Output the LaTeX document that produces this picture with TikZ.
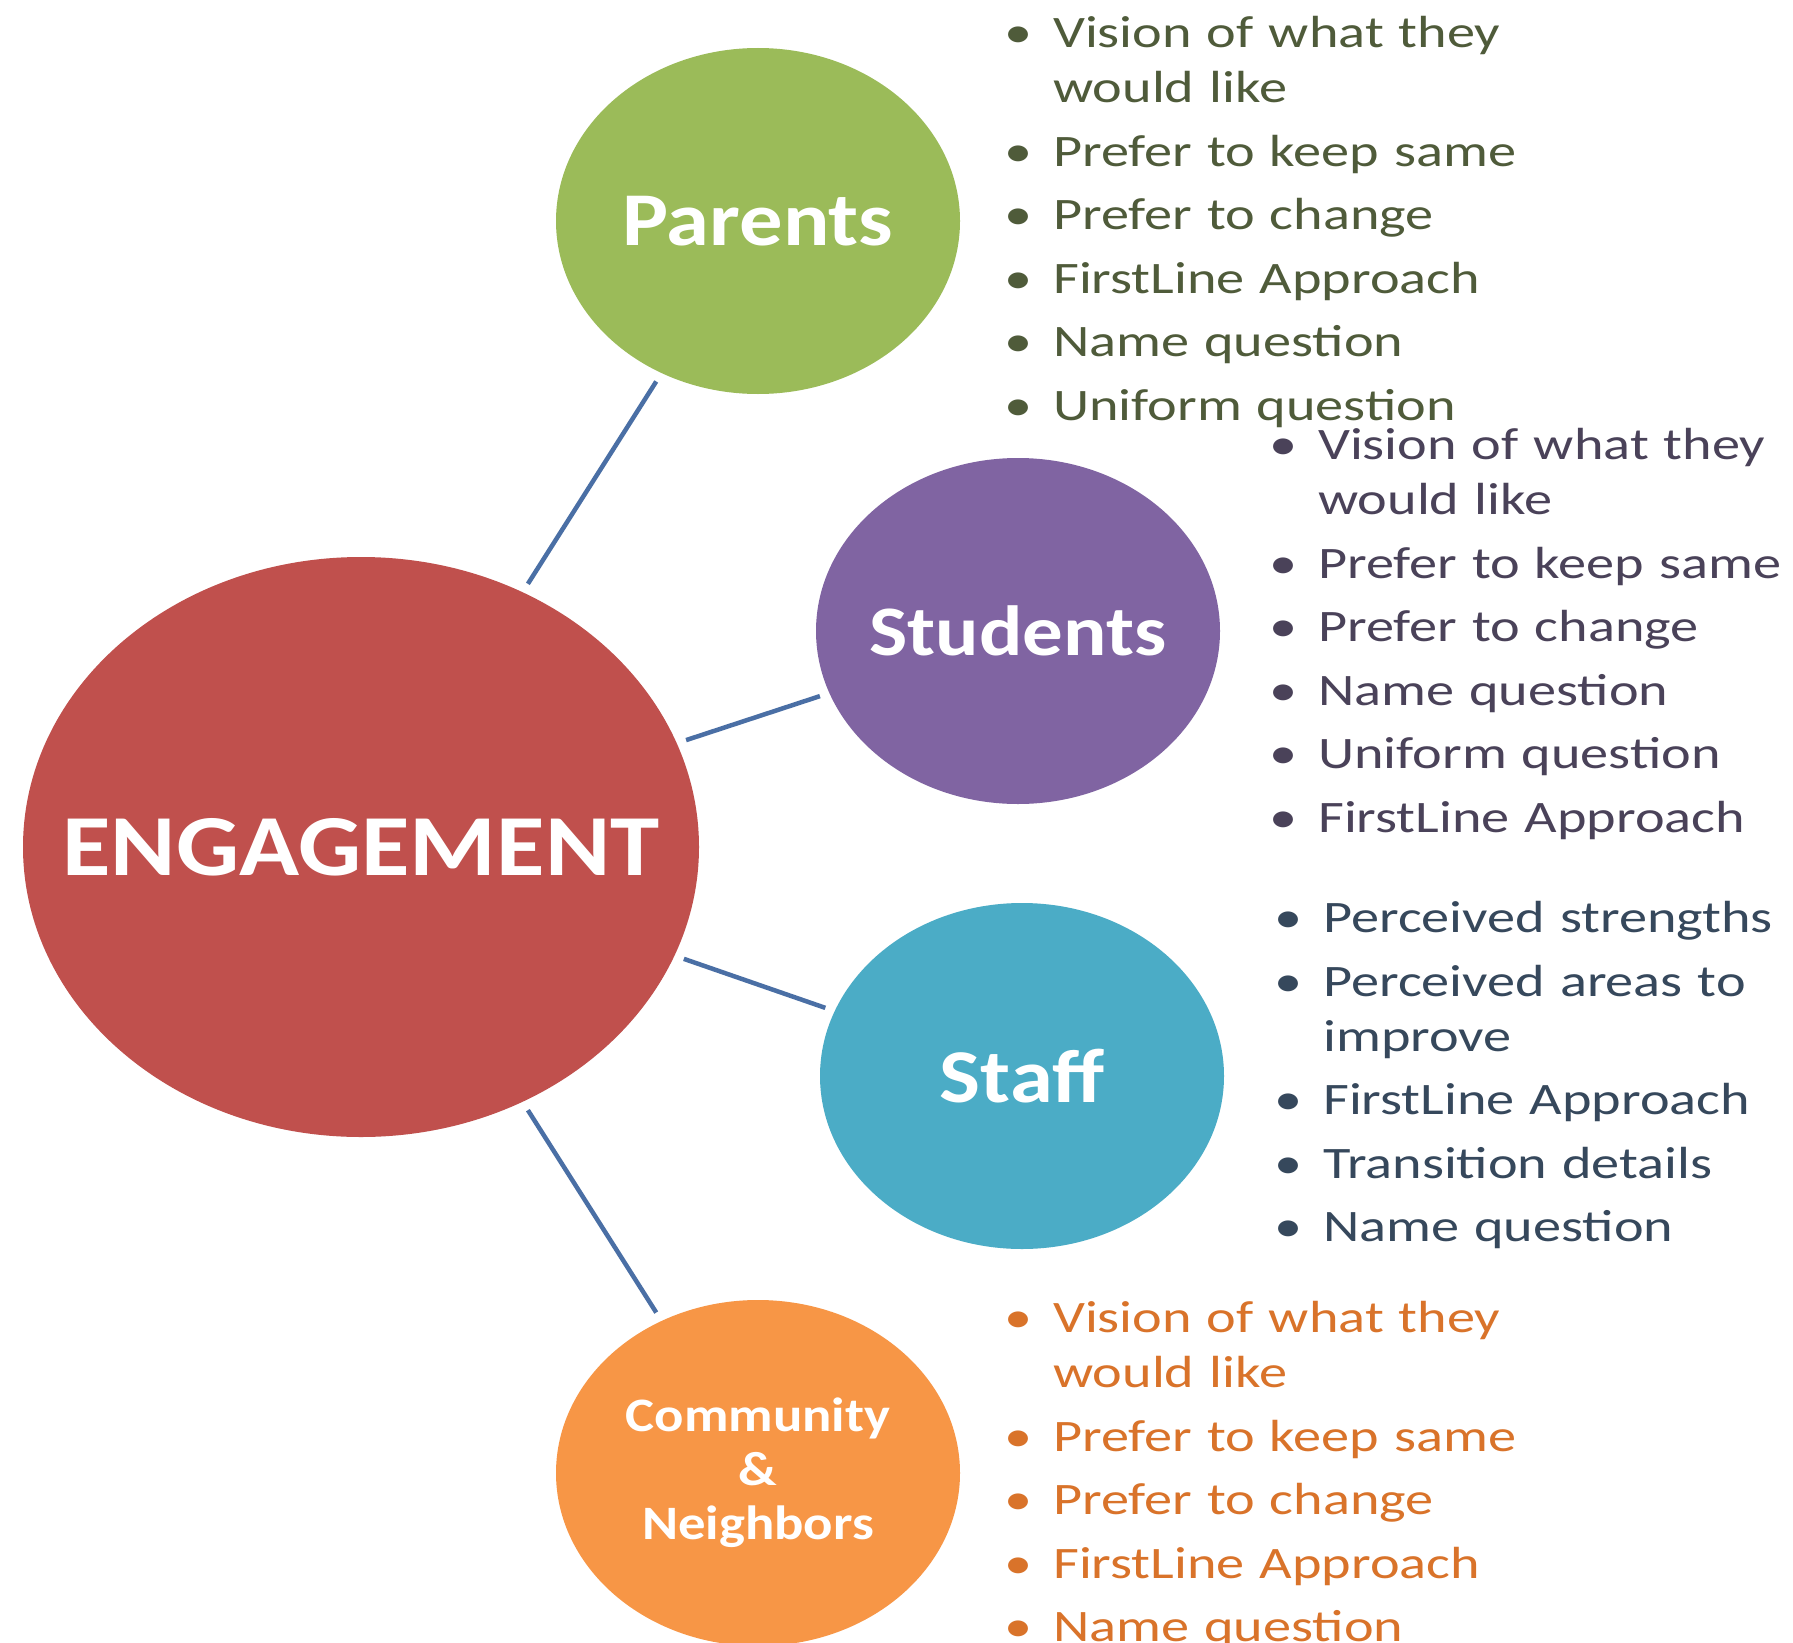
\documentclass[tikz,border=0pt]{standalone}
\usepackage{fontspec}
\setmainfont{Carlito}
\newfontfamily\listfont{Carlito}[FakeStretch=1.25]
\newfontfamily\titlefont{Carlito}[FakeStretch=1.14]
\usetikzlibrary{shapes.geometric}
\definecolor{engred}{HTML}{C0504D}
\definecolor{pargreen}{HTML}{9BBB59}
\definecolor{stupurple}{HTML}{8064A2}
\definecolor{staffteal}{HTML}{4BACC6}
\definecolor{comorange}{HTML}{F79646}
\definecolor{linkblue}{HTML}{4A6FA5}
\definecolor{partext}{HTML}{4F5B3A}
\definecolor{stutext}{HTML}{4A4259}
\definecolor{stafftext}{HTML}{36485C}
\definecolor{comtext}{HTML}{D9732A}
\newcommand\itm[1]{\par\noindent\hangindent=49pt\hangafter=1\makebox[49pt][l]{\rule{0pt}{40pt}\textbullet}#1}
\begin{document}
\begin{tikzpicture}[x=1pt,y=-1pt,
  bubble/.style={ellipse, inner sep=0pt, outer sep=0pt, draw=none},
  bubbletext/.style={text=white, align=center, inner sep=0pt,
    font=\titlefont\bfseries\fontsize{76pt}{80pt}\selectfont},
  bigbubble/.style={bubble, minimum width=676pt, minimum height=580pt},
  smallbubble/.style={bubble, minimum width=404pt, minimum height=346pt},
  conn/.style={draw=linkblue, line width=4.5pt, shorten <=10pt, shorten >=10pt},
  bullets/.style={anchor=north west, inner sep=0pt, text width=780pt, align=left,
    font=\listfont\fontsize{45pt}{55pt}\selectfont}
]
\useasboundingbox (0,0) rectangle (1793,1643);
\clip (0,0) rectangle (1793,1643);
\fill[white] (0,0) rectangle (1793,1643);

\node[bigbubble, fill=engred] (eng) at (361,847) {};
\node[smallbubble, fill=pargreen] (par) at (758,221) {};
\node[smallbubble, fill=stupurple] (stu) at (1018,631) {};
\node[smallbubble, fill=staffteal] (staff) at (1022,1076) {};
\node[smallbubble, fill=comorange] (com) at (758,1473) {};

\node[bubbletext, font=\titlefont\bfseries\fontsize{87pt}{90pt}\selectfont] (engt) at (eng.center) {ENGAGEMENT};
\node[bubbletext] (part) at (par.center) {Parents};
\node[bubbletext, font=\titlefont\bfseries\fontsize{71pt}{80pt}\selectfont] (stut) at (stu.center) {Students};
\node[bubbletext] (stafft) at (staff.center) {Staff};
\node[bubbletext, font=\titlefont\bfseries\fontsize{48pt}{54pt}\selectfont] (comt) at (com.center) {Community\\\&\\Neighbors};

\draw[conn] (eng) -- (par);
\draw[conn] (eng) -- (stu);
\draw[conn] (eng) -- (staff);
\draw[conn] (eng) -- (com);

\node[bullets, text=partext] (parlist) at (1004,-16) {\setlength\parskip{8.5pt}%
\itm{Vision of what they\newline would like}
\itm{Prefer to keep same}
\itm{Prefer to change}
\itm{FirstLine Approach}
\itm{Name question}
\itm{Uniform question}\par};

\node[bullets, text=stutext] (stulist) at (1269,396) {\setlength\parskip{8.5pt}%
\itm{Vision of what they\newline would like}
\itm{Prefer to keep same}
\itm{Prefer to change}
\itm{Name question}
\itm{Uniform question}
\itm{FirstLine Approach}\par};

\node[bullets, text=stafftext] (stafflist) at (1274,869) {\setlength\parskip{8.5pt}%
\itm{Perceived strengths}
\itm{Perceived areas to\newline improve}
\itm{FirstLine Approach}
\itm{Transition details}
\itm{Name question}\par};

\node[bullets, text=comtext] (comlist) at (1004,1269) {\setlength\parskip{8.5pt}%
\itm{Vision of what they\newline would like}
\itm{Prefer to keep same}
\itm{Prefer to change}
\itm{FirstLine Approach}
\itm{Name question}\par};
\end{tikzpicture}
\end{document}
